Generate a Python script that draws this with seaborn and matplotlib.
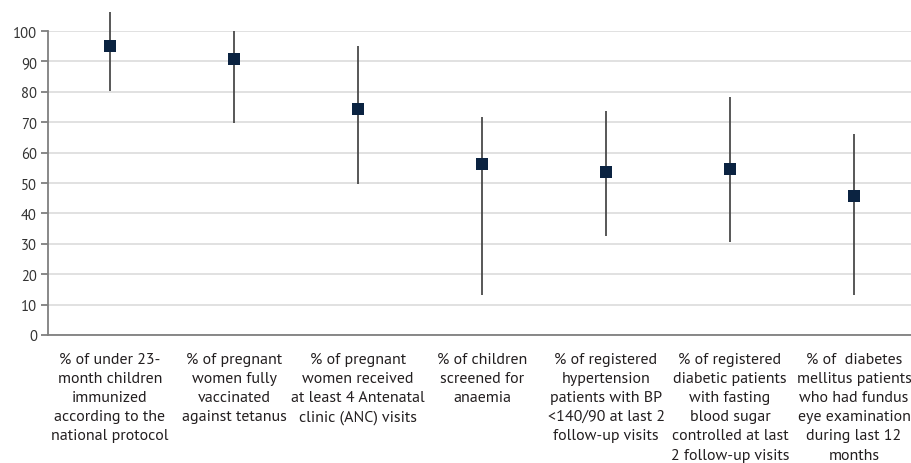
import matplotlib
matplotlib.use("Agg")
import matplotlib.pyplot as plt
import seaborn as sns
import pandas as pd
import numpy as np

categories = [
    "% of under 23-\nmonth children\nimmunized\naccording to the\nnational protocol",
    "% of pregnant\nwomen fully\nvaccinated\nagainst tetanus",
    "% of pregnant\nwomen received\nat least 4 Antenatal\nclinic (ANC) visits",
    "% of children\nscreened for\nanaemia",
    "% of registered\nhypertension\npatients with BP\n<140/90 at last 2\nfollow-up visits",
    "% of registered\ndiabetic patients\nwith fasting\nblood sugar\ncontrolled at last\n2 follow-up visits",
    "% of  diabetes\nmellitus patients\nwho had fundus\neye examination\nduring last 12\nmonths",
]
values = [95.1, 90.8, 74.3, 56.2, 53.6, 54.6, 45.7]
lower = [80.1, 69.6, 49.6, 13.3, 32.6, 30.5, 13.3]
upper = [106.2, 100.0, 95.2, 71.6, 73.6, 78.2, 66.0]
yticks = [0, 10, 20, 30, 40, 50, 60, 70, 80, 90, 100]

df = pd.DataFrame({"cat": categories, "value": values, "lo": lower, "hi": upper})

sns.set_theme(style="white")
plt.rcParams["font.family"] = ["PT Sans", "DejaVu Sans"]

fig = plt.figure(figsize=(9.11, 4.64), dpi=100)
ax = fig.add_axes([48 / 911, 1 - 336 / 464, (916 - 48) / 911, (336 - 32) / 464])

pos = np.arange(len(categories))
ax.vlines(pos, df["lo"], df["hi"], color="#4a4a4a", linewidth=1.3, zorder=2, clip_on=False)
sns.scatterplot(data=df, x="cat", y="value", marker="s", s=75, color="#0b2341",
                edgecolor="none", ax=ax, zorder=3, clip_on=False)

ax.set_xlim(-0.5, len(categories) - 0.5)
ax.set_ylim(0, 100)
ax.set_yticks(yticks)
ax.yaxis.grid(True, color="#d9d9d9", linewidth=1.1)
ax.set_axisbelow(True)
ax.set_xlabel("")
ax.set_ylabel("")

for s in ["top", "right"]:
    ax.spines[s].set_visible(False)
for s in ["left", "bottom"]:
    ax.spines[s].set_color("#7f7f7f")
    ax.spines[s].set_linewidth(1.3)

ax.set_xticks(pos)
ax.set_xticklabels(categories, fontsize=11.5, color="#231f20", linespacing=1.47, va="top")
ax.tick_params(axis="x", which="major", length=0, pad=12)
ax.set_xticks(np.arange(len(categories) + 1) - 0.5, minor=True)
ax.tick_params(axis="x", which="minor", length=5, width=1.3, color="#7f7f7f", direction="out")
ax.tick_params(axis="y", length=5, width=1.3, color="#7f7f7f", labelsize=10.5, labelcolor="#333333", pad=3, left=True)

fig.savefig("out.png", dpi=100)
